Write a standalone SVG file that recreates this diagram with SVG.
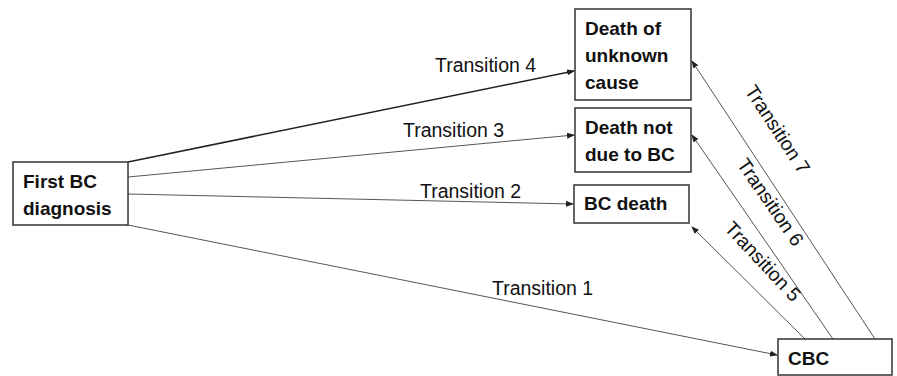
<svg xmlns="http://www.w3.org/2000/svg" width="897" height="376" viewBox="0 0 897 376">
<defs>
<marker id="ah" markerWidth="8" markerHeight="6" refX="7" refY="3" orient="auto" markerUnits="userSpaceOnUse">
<path d="M0,0 L8,3 L0,6 Z" fill="#222"/>
</marker>
</defs>
<style>
.box{fill:#fff;stroke:#333;stroke-width:1.5}
.bt{font-family:"Liberation Sans",Arial,sans-serif;font-weight:bold;font-size:19px;fill:#111}
.lt{font-family:"Liberation Sans",Arial,sans-serif;font-size:19.5px;fill:#111}
.ln{fill:none;stroke:#555;stroke-width:1}
</style>
<rect width="897" height="376" fill="#fff"/>
<g id="connectors">
<line class="ln" x1="128" y1="162" x2="574" y2="71" style="stroke:#222;stroke-width:1.6" marker-end="url(#ah)"/>
<line class="ln" x1="128" y1="177" x2="574" y2="135" marker-end="url(#ah)"/>
<line class="ln" x1="128" y1="194" x2="573" y2="204" marker-end="url(#ah)"/>
<line class="ln" x1="128" y1="225" x2="777" y2="355" marker-end="url(#ah)"/>
<line class="ln" x1="805" y1="339" x2="692" y2="227" marker-end="url(#ah)"/>
<line class="ln" x1="833" y1="339" x2="692" y2="135" marker-end="url(#ah)"/>
<line class="ln" x1="875" y1="339" x2="692" y2="61" marker-end="url(#ah)"/>
<text class="lt" x="435" y="72">Transition 4</text>
<text class="lt" x="403" y="137">Transition 3</text>
<text class="lt" x="420" y="198">Transition 2</text>
<text class="lt" x="492" y="295">Transition 1</text>
<text class="lt" text-anchor="middle" transform="translate(772,133) rotate(56.8)">Transition 7</text>
<text class="lt" text-anchor="middle" transform="translate(765,206) rotate(55.5)">Transition 6</text>
<text class="lt" text-anchor="middle" transform="translate(758,266) rotate(47)">Transition 5</text>
</g>
<g id="first">
<rect class="box" x="13" y="162" width="115" height="63"/>
<text class="bt" x="23" y="188">First BC</text>
<text class="bt" x="23" y="215">diagnosis</text>
</g>
<g id="unknown">
<rect class="box" x="575" y="9" width="116" height="91"/>
<text class="bt" x="585" y="35">Death of</text>
<text class="bt" x="585" y="62">unknown</text>
<text class="bt" x="585" y="89">cause</text>
</g>
<g id="notbc">
<rect class="box" x="575" y="108" width="116" height="64"/>
<text class="bt" x="585" y="134">Death not</text>
<text class="bt" x="585" y="161">due to BC</text>
</g>
<g id="bcdeath">
<rect class="box" x="574" y="185" width="115" height="38"/>
<text class="bt" x="584" y="210">BC death</text>
</g>
<g id="cbc">
<rect class="box" x="778" y="339" width="114" height="36"/>
<text class="bt" x="788" y="365">CBC</text>
</g>
</svg>
